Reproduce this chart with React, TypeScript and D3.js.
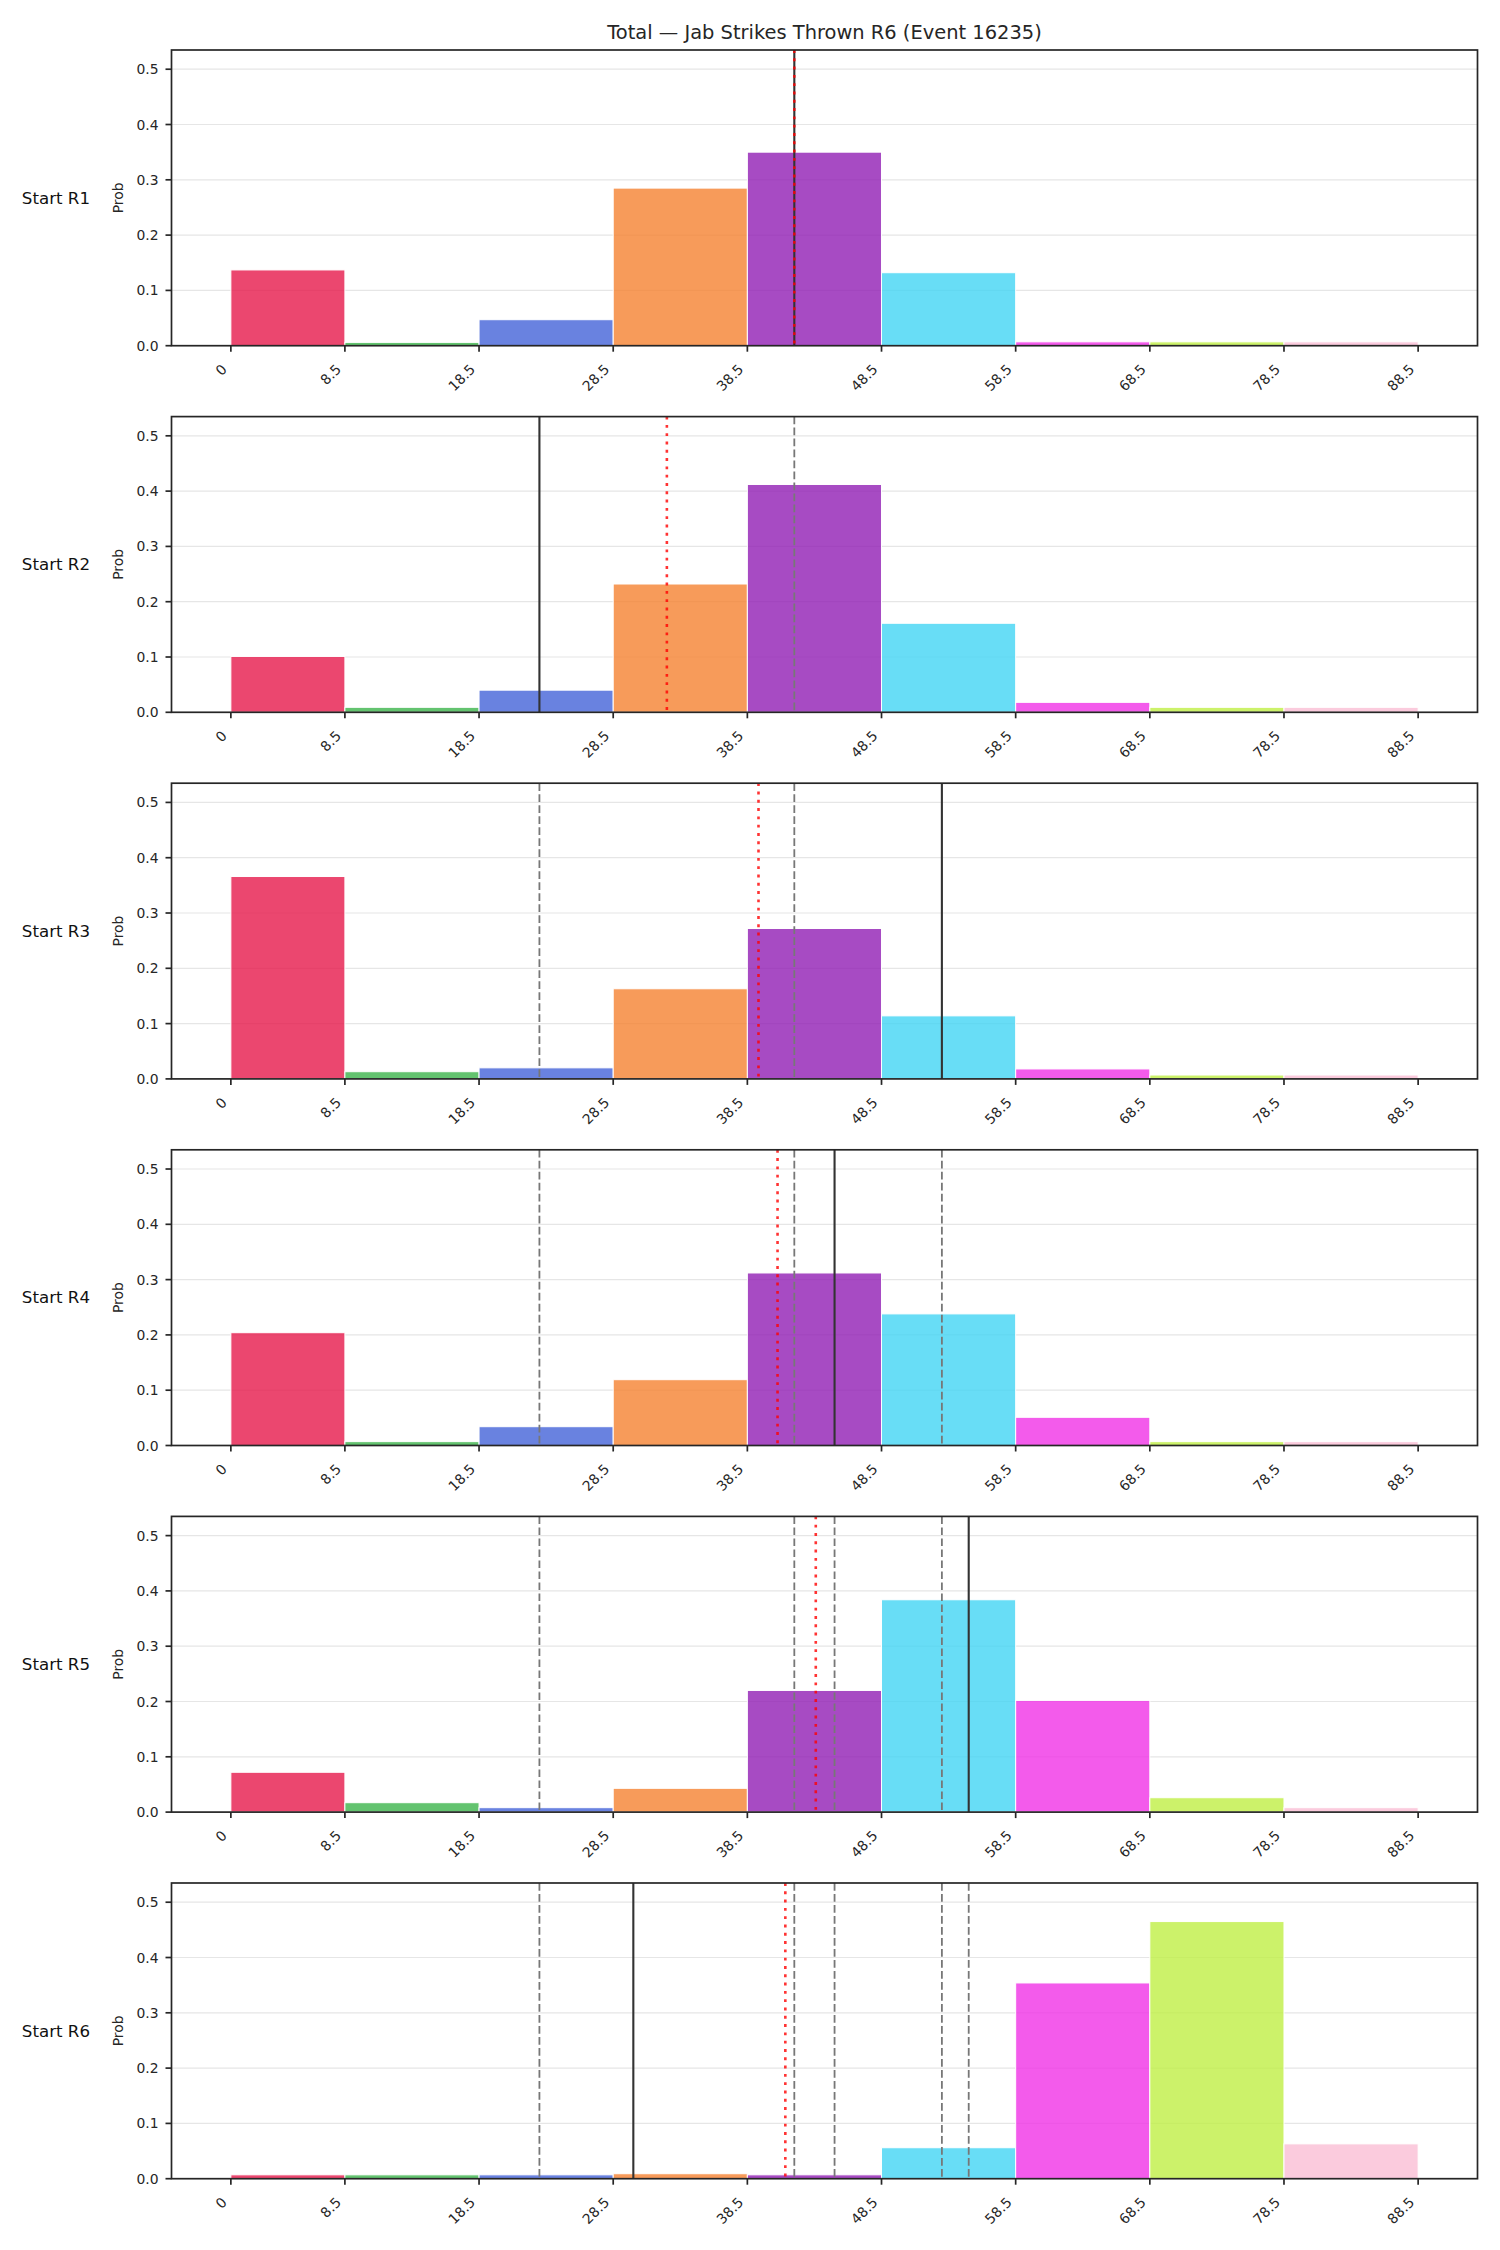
import React from "react";
import * as d3 from "d3";

const title = "Total — Jab Strikes Thrown R6 (Event 16235)";
const binEdges = [0, 8.5, 18.5, 28.5, 38.5, 48.5, 58.5, 68.5, 78.5, 88.5];
const tickValues = [0, 8.5, 18.5, 28.5, 38.5, 48.5, 58.5, 68.5, 78.5, 88.5];
const tickLabels = ["0", "8.5", "18.5", "28.5", "38.5", "48.5", "58.5", "68.5", "78.5", "88.5"];
const yTicks = [0, 0.1, 0.2, 0.3, 0.4, 0.5];
const yTickLabels = ["0.0", "0.1", "0.2", "0.3", "0.4", "0.5"];
const rowLabels = ["Start R1", "Start R2", "Start R3", "Start R4", "Start R5", "Start R6"];
const binColors = ["#e6194B", "#3cb44b", "#4363d8", "#f58231", "#911eb4", "#42d4f4", "#f032e6", "#bfef45", "#fabed4"];

const probR1 = [0.137, 0.006, 0.047, 0.285, 0.350, 0.132, 0.007, 0.007, 0.007];
const probR2 = [0.101, 0.009, 0.040, 0.232, 0.412, 0.161, 0.018, 0.009, 0.009];
const probR3 = [0.366, 0.013, 0.020, 0.163, 0.272, 0.114, 0.018, 0.007, 0.007];
const probR4 = [0.204, 0.007, 0.034, 0.119, 0.312, 0.238, 0.051, 0.007, 0.007];
const probR5 = [0.072, 0.017, 0.008, 0.043, 0.220, 0.384, 0.202, 0.026, 0.008];
const probR6 = [0.007, 0.007, 0.007, 0.009, 0.007, 0.056, 0.354, 0.465, 0.063];
const probs = [probR1, probR2, probR3, probR4, probR5, probR6];

// per-round marker (solid) and running mean (red dotted)
const roundValues = [42, 23, 53, 45, 55, 30];
const runningMean = [42, 32.5, 39.33, 40.75, 43.6, 41.33];

const W = 1500;
const H = 2250;
const axLeft = 171.5;
const axRight = 1477.5;
const top0 = 50;
const panelH = 295.7;
const step = 366.6;
const font = "DejaVu Sans, sans-serif";
const ink = "#262626";

export default function App() {
  const dataMax = d3.max(probs.flat()) as number;
  const x = d3.scaleLinear().domain([-4.425, 92.925]).range([axLeft, axRight]);

  return (
    <svg width={W} height={H} style={{ position: "absolute", left: 0, top: 0, background: "#fff" }} fontFamily={font}>
      <rect x={0} y={0} width={W} height={H} fill="#fff" />
      <text x={(axLeft + axRight) / 2} y={38.5} textAnchor="middle" fontSize={19.44} fill={ink}>
        {title}
      </text>
      {probs.map((p, i) => {
        const top = top0 + i * step;
        const bottom = top + panelH;
        const y = d3.scaleLinear().domain([0, dataMax * 1.15]).range([bottom, top]);
        const midY = (top + bottom) / 2;
        return (
          <g key={i}>
            {yTicks.map((t, k) => (
              <line key={"g" + k} x1={axLeft} x2={axRight} y1={y(t)} y2={y(t)} stroke="#e6e6e6" strokeWidth={1.2} />
            ))}
            {p.map((v, b) => (
              <rect
                key={"b" + b}
                x={x(binEdges[b])}
                y={y(v)}
                width={x(binEdges[b + 1]) - x(binEdges[b])}
                height={y(0) - y(v)}
                fill={binColors[b]}
                fillOpacity={0.8}
                stroke="#ffffff"
                strokeWidth={1}
              />
            ))}
            {roundValues.slice(0, i).map((v, k) => (
              <line key={"d" + k} x1={x(v)} x2={x(v)} y1={top} y2={bottom} stroke="#777777" strokeWidth={1.8} strokeDasharray="7.7 3.3" />
            ))}
            <line x1={x(roundValues[i])} x2={x(roundValues[i])} y1={top} y2={bottom} stroke="#333333" strokeWidth={2.1} />
            <line x1={x(runningMean[i])} x2={x(runningMean[i])} y1={top} y2={bottom} stroke="#ff0000" strokeOpacity={0.8} strokeWidth={2.6} strokeDasharray="2.9 5.4" />
            <rect x={axLeft} y={top} width={axRight - axLeft} height={panelH} fill="none" stroke={ink} strokeWidth={1.7} />
            {yTicks.map((t, k) => (
              <g key={"yt" + k}>
                <line x1={axLeft - 6} x2={axLeft} y1={y(t)} y2={y(t)} stroke={ink} strokeWidth={1.7} />
                <text x={axLeft - 13} y={y(t)} dy="0.36em" textAnchor="end" fontSize={13.9} fill={ink}>
                  {yTickLabels[k]}
                </text>
              </g>
            ))}
            {tickValues.map((t, k) => (
              <g key={"xt" + k}>
                <line x1={x(t)} x2={x(t)} y1={bottom} y2={bottom + 6} stroke={ink} strokeWidth={1.7} />
                <text
                  transform={`translate(${x(t) - 3},${bottom + 24.5}) rotate(-45)`}
                  textAnchor="end"
                  fontSize={13.9}
                  fill={ink}
                >
                  {tickLabels[k]}
                </text>
              </g>
            ))}
            <text transform={`translate(123,${midY}) rotate(-90)`} textAnchor="middle" fontSize={13.9} fill={ink}>
              Prob
            </text>
            <text x={90} y={midY} dy="0.35em" textAnchor="end" fontSize={16.67} fill="#111">
              {rowLabels[i]}
            </text>
          </g>
        );
      })}
    </svg>
  );
}
